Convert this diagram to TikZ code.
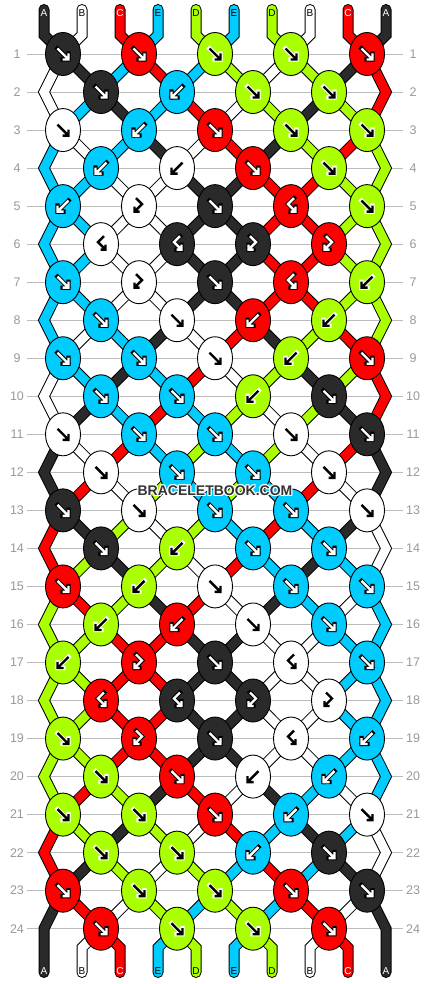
\documentclass[tikz,border=0pt]{standalone}
\usepackage{fontspec}
\setmainfont{Liberation Sans}
\definecolor{colK}{HTML}{2A2A2A}
\definecolor{colW}{HTML}{FFFFFF}
\definecolor{colR}{HTML}{FF0000}
\definecolor{colG}{HTML}{AAFF00}
\definecolor{colC}{HTML}{00CCFF}
\colorlet{arrK}{white}\colorlet{outK}{black}
\colorlet{arrR}{white}\colorlet{outR}{black}
\colorlet{arrC}{white}\colorlet{outC}{black}
\colorlet{arrG}{black}\colorlet{outG}{white}
\colorlet{arrW}{black}\colorlet{outW}{white}
\definecolor{rowgray}{HTML}{999999}
\definecolor{linegray}{HTML}{BBBBBB}
\definecolor{wmgray}{HTML}{333333}

\newcommand\glyphf{(-5.5,-5.5)--(5,5) (5.5,-0.5)--(5.5,5.5)--(-0.5,5.5)}
\newcommand\glyphb{(5.5,-5.5)--(-5,5) (-5.5,-0.5)--(-5.5,5.5)--(0.5,5.5)}
\newcommand\glyphfb{(-3,-8)--(3,-2)--(-4,5) (-4.5,0.5)--(-4.5,5.5)--(0.5,5.5)}
\newcommand\glyphbf{(3,-8)--(-3,-2)--(4,5) (4.5,0.5)--(4.5,5.5)--(-0.5,5.5)}

\tikzset{
  sb/.style={line width=11pt, draw=black, line join=miter},
  sf/.style={line width=9pt, line join=miter},
  knotst/.style={draw=black, line width=0.9pt},
  gout/.style={line width=4.3pt, line join=miter, line cap=rect},
  gin/.style={line width=2.4pt, line join=miter},
  rowlab/.style={text=rowgray, font=\fontsize{12.5}{13}\selectfont, inner sep=0pt},
  strlab/.style={font=\fontsize{10}{10}\selectfont, inner sep=0pt},
  wm/.style={font=\fontsize{14}{14}\selectfont\bfseries, inner sep=0pt},
}

\newcommand\strpath[2]{\draw[sb] #2; \draw[sf, draw=col#1] #2;}
\newcommand\strpathr[2]{\draw[sb, line cap=round] #2; \draw[sf, line cap=round, draw=col#1] #2;}

\newcommand\segrow[2]{%
 \foreach \sc [count=\p from 0] in {#2} {%
  \pgfmathsetmacro\xp{44+38*\p}%
  \pgfmathsetmacro\ka{\xp+19*(2*mod(\p+#1,2)-1)}%
  \pgfmathsetmacro\kb{\xp+19*(2*mod(\p+#1+1,2)-1)}%
  \pgfmathsetmacro\ya{54+38.03*(#1-1)}%
  \pgfmathsetmacro\yb{\ya+38.03}%
  \pgfmathsetmacro\yc{\ya+76.06}%
  \pgfmathsetmacro\yd{\ya+19}%
  \pgfmathtruncatemacro\edge{(\p==0)||(\p==9)}%
  \pgfmathtruncatemacro\odd{mod(#1,2)}%
  \ifnum#1=0
    \strpathr{\sc}{(\xp,9.5)--(\xp,35)--(\kb,\yb)}%
  \else\ifnum\edge=1
    \ifnum\odd=1
      \ifnum#1=23
        \strpathr{\sc}{(\ka,\ya)--(\xp,\yb)--(\xp,972.5)}%
      \else
        \strpath{\sc}{(\ka,\ya)--(\xp,\yb)--(\ka,\yc)}%
      \fi
    \fi
  \else
    \ifnum#1=24
      \strpathr{\sc}{(\ka,\ya)--(\xp,\yd)--(\xp,972.5)}%
    \else
      \strpath{\sc}{(\ka,\ya)--(\kb,\yb)}%
    \fi
  \fi\fi
 }}

\newcommand\knotrow[2]{%
 \pgfmathsetmacro\ky{54+38.03*(#1-1)}%
 \pgfmathsetmacro\kxs{63+38*(1-mod(#1,2))}%
 \foreach \kc/\kt [count=\i from 0] in {#2} {%
   \pgfmathsetmacro\kx{\kxs+76*\i}%
   \draw[knotst, fill=col\kc] (\kx,\ky) ellipse [x radius=17.5, y radius=21.5];
   \expandafter\let\expandafter\gl\csname glyph\kt\endcsname
   \draw[gout, draw=out\kc, shift={(\kx,\ky)}] \gl;
   \draw[gin, draw=arr\kc, shift={(\kx,\ky)}] \gl;
 }}

\begin{document}
\begin{tikzpicture}[x=1pt,y=-1pt]
\fill[white] (0,0) rectangle (430,984);
\useasboundingbox (0,0) rectangle (430,984);

% row lines and numbers
\foreach \r in {1,...,24} {
  \pgfmathsetmacro\yy{54+38.03*(\r-1)}
  \draw[linegray, line width=0.8pt] (27,\yy) -- (403,\yy);
  \node[rowlab] (ll\r) at (17,\yy) {\r};
  \node[rowlab] (lr\r) at (413,\yy) {\r};
}

% strings
\segrow{0}{K,W,R,C,G,C,G,W,R,K}
\segrow{1}{W,K,C,R,C,G,W,G,K,R}
\segrow{2}{W,C,K,C,R,W,G,K,G,R}
\segrow{3}{C,W,C,K,W,R,K,G,R,G}
\segrow{4}{C,C,W,W,K,K,R,R,G,G}
\segrow{5}{C,C,W,W,K,K,R,R,G,G}
\segrow{6}{C,C,W,W,K,K,R,R,G,G}
\segrow{7}{C,C,W,W,K,K,R,R,G,G}
\segrow{8}{C,W,C,K,W,R,K,G,R,G}
\segrow{9}{W,C,K,C,R,W,G,K,G,R}
\segrow{10}{W,K,C,R,C,G,W,G,K,R}
\segrow{11}{K,W,R,C,G,C,G,W,R,K}
\segrow{12}{K,R,W,G,C,G,C,R,W,K}
\segrow{13}{R,K,G,W,G,C,R,C,K,W}
\segrow{14}{R,G,K,G,W,R,C,K,C,W}
\segrow{15}{G,R,G,K,R,W,K,C,W,C}
\segrow{16}{G,G,R,R,K,K,W,W,C,C}
\segrow{17}{G,G,R,R,K,K,W,W,C,C}
\segrow{18}{G,G,R,R,K,K,W,W,C,C}
\segrow{19}{G,G,R,R,K,K,W,W,C,C}
\segrow{20}{G,R,G,K,R,W,K,C,W,C}
\segrow{21}{R,G,K,G,W,R,C,K,C,W}
\segrow{22}{R,K,G,W,G,C,R,C,K,W}
\segrow{23}{K,R,W,G,C,G,C,R,W,K}
\segrow{24}{K,W,R,C,G,C,G,W,R,K}

% knots
\knotrow{1}{K/f,R/f,G/f,G/f,R/f}
\knotrow{2}{K/f,C/b,G/f,G/f}
\knotrow{3}{W/f,C/b,R/f,G/f,G/f}
\knotrow{4}{C/b,W/b,R/f,G/f}
\knotrow{5}{C/b,W/fb,K/f,R/bf,G/f}
\knotrow{6}{W/bf,K/bf,K/fb,R/fb}
\knotrow{7}{C/f,W/fb,K/f,R/bf,G/b}
\knotrow{8}{C/f,W/f,R/b,G/b}
\knotrow{9}{C/f,C/f,W/f,G/b,R/f}
\knotrow{10}{C/f,C/f,G/b,K/f}
\knotrow{11}{W/f,C/f,C/f,W/f,K/f}
\knotrow{12}{W/f,C/f,C/f,W/f}
\knotrow{13}{K/f,W/f,C/f,C/f,W/f}
\knotrow{14}{K/f,G/b,C/f,C/f}
\knotrow{15}{R/f,G/b,W/f,C/f,C/f}
\knotrow{16}{G/b,R/b,W/f,C/f}
\knotrow{17}{G/b,R/fb,K/f,W/bf,C/f}
\knotrow{18}{R/bf,K/bf,K/fb,W/fb}
\knotrow{19}{G/f,R/fb,K/f,W/bf,C/b}
\knotrow{20}{G/f,R/f,W/b,C/b}
\knotrow{21}{G/f,G/f,R/f,C/b,W/f}
\knotrow{22}{G/f,G/f,C/b,K/f}
\knotrow{23}{R/f,G/f,G/f,R/f,K/f}
\knotrow{24}{R/f,G/f,G/f,R/f}

% string labels
\foreach \lab/\tc [count=\p from 0] in {A/white,B/black,C/white,E/black,D/black,E/black,D/black,B/black,C/white,A/white} {
  \node[strlab, text=\tc] (t\p) at (44+38*\p, 13) {\lab};
  \node[strlab, text=\tc] (b\p) at (44+38*\p, 971) {\lab};
}

% watermark
\foreach \dx/\dy [count=\k] in {-1/-1,-1/0,-1/1,0/-1,0/1,1/-1,1/0,1/1} {
  \node[wm, text=white] (wh\k) at (215+\dx, 491+\dy) {BRACELETBOOK.COM};
}
\node[wm, text=wmgray] (wm) at (215,491) {BRACELETBOOK.COM};
\end{tikzpicture}
\end{document}
